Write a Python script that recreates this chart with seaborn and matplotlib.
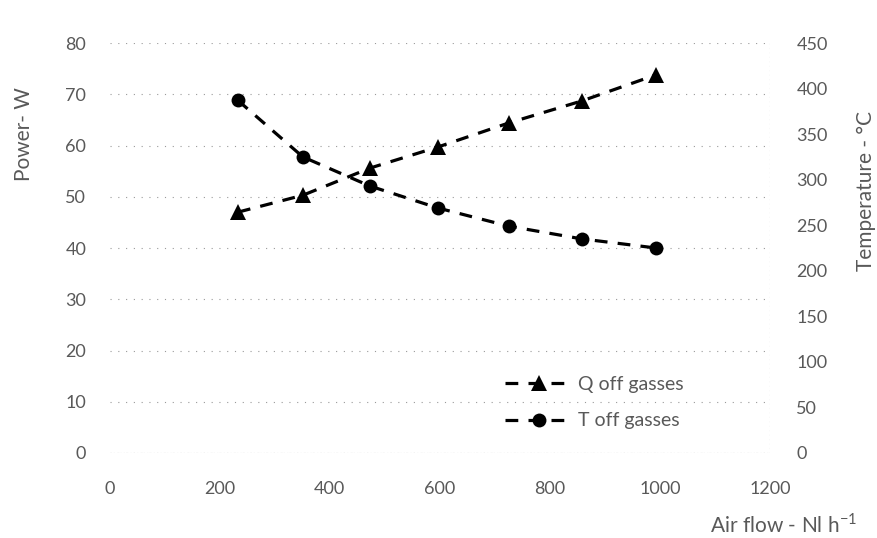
import matplotlib
matplotlib.use("Agg")
import matplotlib.pyplot as plt
from matplotlib.lines import Line2D
import seaborn as sns
import pandas as pd

# Measured data
air_flow = [233, 351, 473, 596, 725, 858, 993]          # Nl h^-1
q_off_gasses = [47.0, 50.3, 55.6, 59.7, 64.4, 68.7, 73.8]  # W
t_off_gasses = [387, 325, 293, 269, 249, 235, 225]      # °C

x_ticks = [0, 200, 400, 600, 800, 1000, 1200]
power_ticks = [0, 10, 20, 30, 40, 50, 60, 70, 80]
temp_ticks = [0, 50, 100, 150, 200, 250, 300, 350, 400, 450]

df = pd.DataFrame({"air": air_flow, "Q": q_off_gasses, "T": t_off_gasses})

sns.set_theme(style="white")
plt.rcParams["font.family"] = ["Lato", "DejaVu Sans"]

text_grey = "#595959"
fig = plt.figure(figsize=(8.78, 5.38), dpi=100)
ax = fig.add_axes([0.125, 0.158, 0.752, 0.762])
ax2 = ax.twinx()

dash = (4, 3.2)
sns.lineplot(data=df, x="air", y="Q", ax=ax, color="black", lw=2.3,
             marker="^", markersize=11, markeredgewidth=0,
             dashes=False, legend=False)
ax.lines[-1].set_dashes(dash)
sns.lineplot(data=df, x="air", y="T", ax=ax2, color="black", lw=2.3,
             marker="o", markersize=10, markeredgewidth=0,
             dashes=False, legend=False)
ax2.lines[-1].set_dashes(dash)

ax.set_xlim(0, 1200)
ax.set_ylim(0, 80)
ax2.set_ylim(0, 450)
ax.set_xticks(x_ticks)
ax.set_yticks(power_ticks)
ax2.set_yticks(temp_ticks)

for a in (ax, ax2):
    for s in a.spines.values():
        s.set_visible(False)
    a.set_xlabel("")
    a.set_ylabel("")
    a.tick_params(length=0, labelsize=13, colors=text_grey)
ax.tick_params(axis="y", pad=17)
ax.tick_params(axis="x", pad=20)
ax2.tick_params(axis="y", pad=19)

# faint dotted gridlines
ax.grid(axis="y", linestyle=(0, (1, 6)), color="#9a9a9a", lw=0.8)
ax.axhline(0, color="#9a9a9a", lw=0.8, linestyle=(0, (1, 2)))
ax.axvline(1200, color="#9a9a9a", lw=0.8, linestyle=(0, (1, 3)))

fig.text(0.027, 0.75, "Power- W", rotation=90, ha="center", va="center",
         fontsize=15, color=text_grey)
fig.text(0.986, 0.645, "Temperature - °C", rotation=90, ha="center", va="center",
         fontsize=15, color=text_grey)
fig.text(0.976, 0.025, "Air flow - Nl h$^{\\mathregular{-1}}$", ha="right", va="center",
         fontsize=15, color=text_grey)

handles = [
    Line2D([], [], color="black", lw=2.3, dashes=dash, marker="^",
           markersize=11, markeredgewidth=0),
    Line2D([], [], color="black", lw=2.3, dashes=dash, marker="o",
           markersize=10, markeredgewidth=0),
]
leg = ax2.legend(handles, ["Q off gasses", "T off gasses"], loc="lower right",
                 bbox_to_anchor=(0.895, 0.015), frameon=False, fontsize=14,
                 handlelength=3.5, handletextpad=0.25, labelspacing=1.0)
for t in leg.get_texts():
    t.set_color(text_grey)

fig.savefig("out.png", dpi=100)
